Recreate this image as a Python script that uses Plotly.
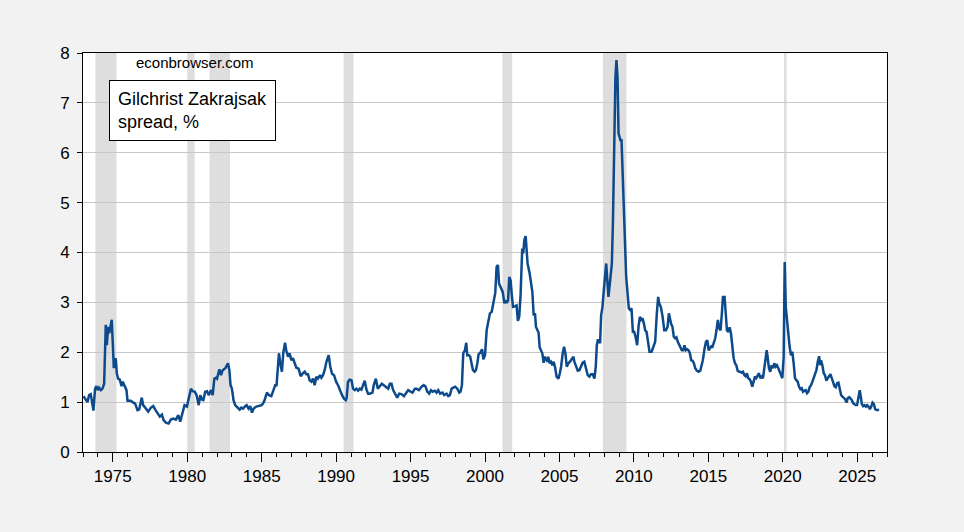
import plotly.graph_objects as go

# decimal year of each reading and the Gilchrist-Zakrajsak spread (%)
year = [
    1973.03, 1973.19, 1973.30, 1973.41, 1973.52, 1973.63, 1973.70, 1973.81, 1973.90, 1973.99,
    1974.08, 1974.20, 1974.31, 1974.42, 1974.53, 1974.60, 1974.69, 1974.76, 1974.85, 1974.93,
    1975.00, 1975.07, 1975.14, 1975.20, 1975.27, 1975.36, 1975.47, 1975.59, 1975.67, 1975.81, 1975.92, 1975.99,
    1976.21, 1976.33, 1976.50, 1976.66, 1976.77, 1976.95,
    1977.04, 1977.22, 1977.38, 1977.56, 1977.72, 1977.85,
    1978.01, 1978.16, 1978.30, 1978.41, 1978.57, 1978.75, 1978.90,
    1979.06, 1979.24, 1979.40, 1979.53, 1979.69, 1979.82, 1979.98,
    1980.09, 1980.25, 1980.36, 1980.50, 1980.63, 1980.77, 1980.88, 1980.99,
    1981.08, 1981.21, 1981.33, 1981.44, 1981.60, 1981.71, 1981.82, 1981.93,
    1982.00, 1982.16, 1982.27, 1982.38, 1982.56, 1982.74, 1982.83, 1982.91, 1983.00,
    1983.11, 1983.22, 1983.36, 1983.52, 1983.63, 1983.74, 1983.90, 1983.99,
    1984.12, 1984.23, 1984.35, 1984.46, 1984.64, 1984.75, 1984.86, 1985.00,
    1985.09, 1985.20, 1985.35, 1985.49, 1985.65, 1985.76, 1985.91, 1986.00,
    1986.09, 1986.16, 1986.25, 1986.36, 1986.45, 1986.57, 1986.65, 1986.77, 1986.88, 1986.99,
    1987.10, 1987.22, 1987.33, 1987.48, 1987.62, 1987.75, 1987.89, 1988.00,
    1988.11, 1988.22, 1988.34, 1988.45, 1988.56, 1988.67, 1988.78, 1988.92, 1989.01,
    1989.12, 1989.23, 1989.35, 1989.50, 1989.61, 1989.73, 1989.86, 1990.00,
    1990.13, 1990.26, 1990.40, 1990.53, 1990.65, 1990.71, 1990.80, 1990.91, 1991.03,
    1991.14, 1991.25, 1991.36, 1991.48, 1991.59, 1991.70, 1991.81, 1991.92, 1992.04,
    1992.15, 1992.26, 1992.44, 1992.53, 1992.67, 1992.80, 1992.93,
    1993.07, 1993.20, 1993.34, 1993.50, 1993.61, 1993.72, 1993.83, 1993.97,
    1994.10, 1994.24, 1994.39, 1994.55, 1994.68, 1994.84, 1995.00,
    1995.13, 1995.29, 1995.40, 1995.56, 1995.74, 1995.89, 1996.01,
    1996.12, 1996.25, 1996.37, 1996.48, 1996.63, 1996.75, 1996.86, 1996.99,
    1997.15, 1997.26, 1997.42, 1997.53, 1997.64, 1997.76, 1997.87, 1998.00,
    1998.14, 1998.27, 1998.36, 1998.45, 1998.54, 1998.65, 1998.74, 1998.81, 1998.92, 1999.01,
    1999.10, 1999.19, 1999.30, 1999.39, 1999.48, 1999.57, 1999.68, 1999.80, 1999.89, 2000.00,
    2000.11, 2000.22, 2000.33, 2000.45, 2000.56, 2000.69, 2000.78, 2000.87, 2000.94,
    2001.05, 2001.19, 2001.30, 2001.37, 2001.46, 2001.55, 2001.63, 2001.72, 2001.79, 2001.88, 2001.99,
    2002.12, 2002.21, 2002.30, 2002.39, 2002.50, 2002.57, 2002.64, 2002.73, 2002.80, 2002.86, 2003.00,
    2003.09, 2003.18, 2003.27, 2003.36, 2003.42, 2003.51, 2003.60, 2003.67, 2003.76, 2003.85, 2003.94, 2004.00,
    2004.07, 2004.19, 2004.25, 2004.34, 2004.43, 2004.52, 2004.61, 2004.70, 2004.81, 2004.93, 2005.02,
    2005.11, 2005.22, 2005.31, 2005.40, 2005.49, 2005.60, 2005.71, 2005.82, 2005.94, 2006.00,
    2006.11, 2006.23, 2006.34, 2006.45, 2006.56, 2006.67, 2006.79, 2006.90, 2007.01,
    2007.12, 2007.24, 2007.35, 2007.44, 2007.51, 2007.59, 2007.73, 2007.80, 2007.89, 2007.98,
    2008.05, 2008.14, 2008.23, 2008.29, 2008.41, 2008.52, 2008.59, 2008.67, 2008.76, 2008.83, 2008.90, 2008.97,
    2009.03, 2009.10, 2009.17, 2009.24, 2009.30, 2009.39, 2009.48, 2009.57, 2009.66, 2009.75, 2009.84, 2009.93,
    2010.02, 2010.11, 2010.22, 2010.31, 2010.40, 2010.49, 2010.58, 2010.67, 2010.76, 2010.85, 2010.94,
    2011.05, 2011.19, 2011.32, 2011.43, 2011.54, 2011.63, 2011.70, 2011.81, 2011.93,
    2012.04, 2012.15, 2012.26, 2012.35, 2012.41, 2012.50, 2012.59, 2012.68, 2012.77, 2012.86, 2012.95,
    2013.04, 2013.13, 2013.22, 2013.31, 2013.40, 2013.49, 2013.58, 2013.67, 2013.76, 2013.85, 2013.94,
    2014.03, 2014.12, 2014.23, 2014.34, 2014.46, 2014.54, 2014.63, 2014.75, 2014.84, 2014.93,
    2015.02, 2015.11, 2015.20, 2015.28, 2015.37, 2015.46, 2015.55, 2015.64, 2015.73, 2015.82, 2015.91, 2015.98,
    2016.09, 2016.16, 2016.25, 2016.34, 2016.43, 2016.52, 2016.61, 2016.70, 2016.79, 2016.88, 2016.97,
    2017.06, 2017.15, 2017.24, 2017.33, 2017.42, 2017.51, 2017.59, 2017.68, 2017.77, 2017.86, 2017.95,
    2018.04, 2018.13, 2018.22, 2018.31, 2018.40, 2018.49, 2018.58, 2018.67, 2018.76, 2018.85, 2018.92, 2018.98,
    2019.07, 2019.16, 2019.25, 2019.34, 2019.43, 2019.52, 2019.61, 2019.70, 2019.79, 2019.88, 2019.97,
    2020.06, 2020.13, 2020.20, 2020.28, 2020.37, 2020.46, 2020.55, 2020.64, 2020.73, 2020.82, 2020.91,
    2021.00, 2021.09, 2021.18, 2021.27, 2021.36, 2021.45, 2021.54, 2021.63, 2021.72, 2021.81, 2021.90, 2021.99,
    2022.08, 2022.17, 2022.26, 2022.35, 2022.44, 2022.50, 2022.57, 2022.66, 2022.75, 2022.84, 2022.93,
    2023.02, 2023.11, 2023.20, 2023.29, 2023.38, 2023.47, 2023.56, 2023.65, 2023.74, 2023.83, 2023.92,
    2024.01, 2024.10, 2024.19, 2024.28, 2024.37, 2024.47, 2024.55, 2024.64, 2024.73, 2024.81, 2024.90, 2024.99,
    2025.08, 2025.17, 2025.24, 2025.31, 2025.40, 2025.49, 2025.58, 2025.67, 2025.76, 2025.85, 2025.94,
    2026.03, 2026.12, 2026.20, 2026.29, 2026.38, 2026.47,
]

spread = [
    1.12, 1.03, 1.00, 1.14, 1.16, 0.96, 0.83, 1.27, 1.32, 1.24,
    1.29, 1.24, 1.27, 1.37, 2.55, 2.14, 2.51, 2.38, 2.51, 2.65,
    2.18, 1.68, 1.84, 1.88, 1.58, 1.47, 1.45, 1.32, 1.41, 1.31, 1.24, 1.03,
    1.03, 1.00, 0.97, 0.84, 0.85, 1.09,
    0.94, 0.87, 0.81, 0.89, 0.92, 0.85,
    0.77, 0.71, 0.75, 0.64, 0.59, 0.57, 0.65,
    0.67, 0.65, 0.74, 0.61, 0.81, 0.94, 0.91,
    1.04, 1.27, 1.22, 1.21, 1.14, 0.94, 1.14, 1.05,
    1.04, 1.21, 1.22, 1.14, 1.24, 1.14, 1.47, 1.49,
    1.47, 1.66, 1.54, 1.64, 1.68, 1.78, 1.64, 1.34, 1.27,
    1.04, 0.94, 0.89, 0.85, 0.89, 0.87, 0.92, 0.94,
    0.87, 0.92, 0.79, 0.87, 0.91, 0.92, 0.94, 0.94,
    0.97, 1.04, 1.19, 1.14, 1.12, 1.21, 1.34, 1.34,
    1.64, 1.98, 1.78, 1.61, 1.98, 2.19, 2.04, 1.91, 1.98, 1.84,
    1.88, 1.78, 1.69, 1.67, 1.52, 1.57, 1.61, 1.56,
    1.56, 1.44, 1.41, 1.47, 1.34, 1.51, 1.47, 1.54, 1.49,
    1.54, 1.64, 1.81, 1.94, 1.71, 1.57, 1.54, 1.41,
    1.34, 1.23, 1.14, 1.07, 1.04, 1.09, 1.41, 1.45, 1.44,
    1.27, 1.24, 1.27, 1.23, 1.27, 1.25, 1.34, 1.43, 1.25,
    1.17, 1.17, 1.19, 1.34, 1.47, 1.27, 1.32,
    1.37, 1.34, 1.31, 1.27, 1.37, 1.37, 1.24, 1.17,
    1.09, 1.17, 1.16, 1.12, 1.17, 1.24, 1.21,
    1.19, 1.27, 1.27, 1.24, 1.31, 1.34, 1.31,
    1.21, 1.17, 1.24, 1.21, 1.23, 1.19, 1.24, 1.17,
    1.19, 1.14, 1.17, 1.12, 1.14, 1.27, 1.29, 1.31,
    1.27, 1.19, 1.21, 1.34, 1.98, 2.04, 2.19, 1.94, 1.94, 1.91,
    1.77, 1.64, 1.61, 1.64, 1.77, 1.96, 1.99, 2.06, 1.86, 1.94,
    2.44, 2.66, 2.78, 2.81, 3.01, 3.19, 3.71, 3.75, 3.38,
    3.31, 3.21, 2.98, 3.04, 2.99, 3.04, 3.51, 3.44, 3.18, 2.91, 2.92,
    2.94, 2.63, 2.71, 3.15, 4.08, 3.98, 4.25, 4.33, 3.98, 3.78, 3.58,
    3.41, 3.21, 2.74, 2.78, 2.51, 2.44, 2.39, 2.10, 2.04, 1.98, 1.79, 1.91,
    1.88, 1.81, 1.91, 1.78, 1.81, 1.74, 1.81, 1.71, 1.51, 1.47, 1.57,
    1.71, 1.98, 2.11, 1.98, 1.71, 1.78, 1.81, 1.86, 1.91, 1.81,
    1.71, 1.63, 1.64, 1.72, 1.79, 1.81, 1.68, 1.54, 1.51,
    1.56, 1.56, 1.47, 1.71, 2.14, 2.26, 2.18, 2.74, 2.91, 3.24,
    3.45, 3.78, 3.38, 3.11, 3.45, 3.78, 4.58, 6.39, 7.52, 7.86, 7.52, 6.39,
    6.29, 6.25, 6.25, 5.52, 4.85, 4.32, 3.52, 3.25, 2.88, 2.85, 2.88, 2.41,
    2.41, 2.31, 2.14, 2.51, 2.71, 2.65, 2.68, 2.58, 2.44, 2.41, 2.18,
    2.01, 2.01, 2.11, 2.21, 2.78, 3.11, 2.98, 2.91, 2.71,
    2.44, 2.44, 2.51, 2.78, 2.68, 2.57, 2.51, 2.31, 2.28, 2.30, 2.21,
    2.14, 2.11, 2.04, 2.04, 2.14, 2.04, 2.06, 2.04, 1.98, 1.84, 1.83,
    1.78, 1.68, 1.63, 1.61, 1.63, 1.71, 1.84, 2.08, 2.21, 2.24,
    2.04, 2.08, 2.12, 2.11, 2.18, 2.28, 2.44, 2.65, 2.48, 2.44, 2.78, 3.11,
    3.11, 2.81, 2.44, 2.41, 2.50, 2.38, 2.14, 1.88, 1.78, 1.74, 1.63,
    1.61, 1.61, 1.59, 1.61, 1.54, 1.52, 1.58, 1.48, 1.46, 1.41, 1.31,
    1.41, 1.51, 1.48, 1.52, 1.58, 1.48, 1.51, 1.48, 1.71, 1.88, 2.04, 1.91,
    1.68, 1.61, 1.74, 1.68, 1.78, 1.71, 1.74, 1.68, 1.61, 1.51, 1.48,
    1.91, 3.81, 2.91, 2.65, 2.38, 2.11, 1.94, 2.01, 1.78, 1.48, 1.44,
    1.41, 1.31, 1.26, 1.28, 1.21, 1.23, 1.24, 1.18, 1.21, 1.30, 1.34, 1.41,
    1.48, 1.54, 1.64, 1.81, 1.92, 1.74, 1.84, 1.74, 1.58, 1.54, 1.43,
    1.48, 1.52, 1.56, 1.48, 1.38, 1.32, 1.30, 1.38, 1.39, 1.28, 1.14,
    1.11, 1.08, 1.06, 0.99, 1.08, 1.10, 1.08, 1.04, 0.98, 0.96, 0.94, 0.94,
    1.11, 1.24, 1.11, 0.96, 0.92, 0.94, 0.91, 0.94, 0.91, 0.86, 0.91,
    0.99, 0.96, 0.86, 0.84, 0.84, 0.84,
]

# NBER recessions (decimal years)
rec_start = [1973.83, 1980.0, 1981.5, 1990.5, 2001.17, 2007.92, 2020.08]
rec_end = [1975.25, 1980.5, 1982.87, 1991.17, 2001.83, 2009.5, 2020.25]

tick_years = [1975, 1980, 1985, 1990, 1995, 2000, 2005, 2010, 2015, 2020, 2025]
tick_labels = [str(y) for y in tick_years]

fig = go.Figure()

for a, b in zip(rec_start, rec_end):
    fig.add_vrect(x0=a, x1=b, fillcolor="#dedede", opacity=1, line_width=0, layer="below")

fig.add_trace(go.Scatter(x=year, y=spread, mode="lines",
                         line=dict(color="#0c4a8b", width=2.5)))

# label text
fig.add_annotation(text="econbrowser.com", xref="paper", yref="paper", x=0.064, y=0.977,
                   xanchor="left", yanchor="middle", showarrow=False, font=dict(size=15))
fig.add_annotation(text="Gilchrist Zakrajsak<br>spread, %", xref="paper", yref="paper",
                   x=0.032, y=0.932, xanchor="left", yanchor="top", align="left",
                   showarrow=False, bgcolor="white", bordercolor="black", borderwidth=1,
                   borderpad=8, font=dict(size=18))

fig.update_layout(
    width=964, height=532,
    margin=dict(l=83, r=77, t=53, b=80),
    paper_bgcolor="#f2f2f2", plot_bgcolor="white",
    showlegend=False,
    font=dict(family="Arial, Liberation Sans, sans-serif", size=17, color="black"),
    xaxis=dict(range=[1973, 2027], tickvals=tick_years, ticktext=tick_labels,
               ticks="outside", ticklen=9, tickcolor="black", showgrid=False,
               showline=True, linecolor="black", linewidth=1, mirror=True, zeroline=False,
               minor=dict(dtick=1, tick0=1973, ticks="outside", ticklen=4,
                          tickcolor="black", showgrid=False)),
    yaxis=dict(range=[0, 8], dtick=1, ticks="outside", ticklen=5, tickcolor="black",
               ticklabelstandoff=4,
               showgrid=True, gridcolor="#c8c8c8", showline=True, linecolor="black",
               linewidth=1, mirror=True, zeroline=False),
)

fig.write_html("out.html", config={"displayModeBar": False},
               post_script="document.body.style.margin='0';")
